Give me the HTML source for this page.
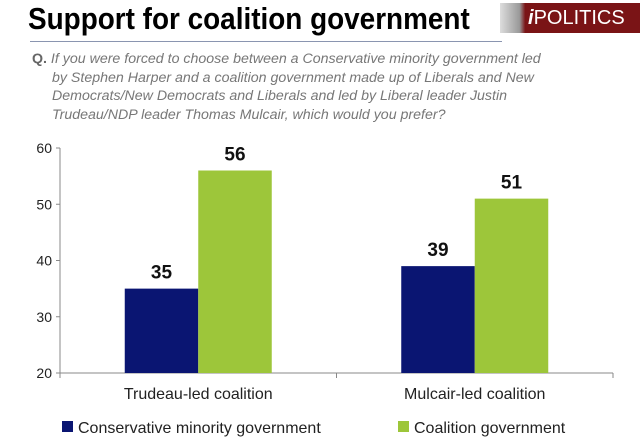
<!DOCTYPE html>
<html><head><meta charset="utf-8"><style>
body{margin:0;width:640px;height:439px;background:#fff;overflow:hidden;font-family:"Liberation Sans",sans-serif;position:relative}
.t{position:absolute;white-space:nowrap}
</style></head><body>
<div class="t" style="left:28px;top:1px;font-size:31px;font-weight:bold;color:#000;transform:scaleX(0.9);transform-origin:0 0">Support for coalition government</div>
<div style="position:absolute;left:500px;top:3px;width:140px;height:30px;background:linear-gradient(90deg,#ddd,#999 14%,#7a1416 18%,#7a1416)">
<span class="t" style="left:28px;top:4px;font-size:20px;color:#fff"><i style="font-weight:bold">i</i>POLITICS</span></div>
<div style="position:absolute;left:30px;top:41px;width:472px;height:1px;background:#8a95b0"></div>
<div style="position:absolute;left:32px;top:50px;font-size:14.2px;line-height:18.6px;color:#777;font-style:italic;width:610px">
<div><b style="font-style:normal;color:#666">Q.</b> If you were forced to choose between a Conservative minority government led</div>
<div style="padding-left:20px">by Stephen Harper and a coalition government made up of Liberals and New</div>
<div style="padding-left:20px">Democrats/New Democrats and Liberals and led by Liberal leader Justin</div>
<div style="padding-left:20px">Trudeau/NDP leader Thomas Mulcair, which would you prefer?</div></div>
<svg id="c" width="640" height="439" style="position:absolute;left:0;top:0"></svg>
<script>
const categories=["Trudeau-led coalition","Mulcair-led coalition"];
const conservative=[35,39];
const coalition=[56,51];
const yTicks=[20,30,40,50,60];
const seriesNames=["Conservative minority government","Coalition government"];
const colors=["#0a1572","#9dc63a"];
const svg=document.getElementById('c');const NS="http://www.w3.org/2000/svg";
const x0=60,x1=613,yMin=20,yMax=60,py0=373,py1=148;
const y=v=>py0-(v-yMin)/(yMax-yMin)*(py0-py1);
const bw=(x1-x0)/categories.length;
function mk(tag,attrs,name,txt){const e=document.createElementNS(NS,tag);for(const k in attrs)e.setAttribute(k,attrs[k]);


if(txt!==undefined)e.textContent=txt;svg.appendChild(e);return e;}
mk('line',{x1:x0,y1:py1,x2:x0,y2:py0,stroke:'#888'},'y-axis');
mk('line',{x1:x0,y1:py0,x2:x1,y2:py0,stroke:'#888'},'x-axis');
yTicks.forEach(t=>{mk('line',{x1:x0-4,y1:y(t),x2:x0,y2:y(t),stroke:'#888'},'y-tick');
mk('text',{x:x0-8,y:y(t)+5,'text-anchor':'end','font-size':14,fill:'#222'},'y-tick-label',String(t));});
for(let i=0;i<=categories.length;i++)mk('line',{x1:x0+i*bw,y1:py0,x2:x0+i*bw,y2:py0+5,stroke:'#888'},'x-tick');
const series=[conservative,coalition];const barW=73.5;
categories.forEach((c,i)=>{const cx=x0+bw*(i+0.5);
series.forEach((s,j)=>{const bx=cx-barW+j*barW;
mk('rect',{x:bx,y:y(s[i]),width:barW,height:py0-y(s[i]),fill:colors[j]},'bar-'+(j?'coalition':'conservative')+'-'+(i+1));
mk('text',{x:bx+barW/2,y:y(s[i])-10,'text-anchor':'middle','font-size':19,'font-weight':'bold',fill:'#111'},'value-label',String(s[i]));});
mk('text',{x:cx,y:399,'text-anchor':'middle','font-size':16,fill:'#222'},'category-label',c);});
[[62,78],[398,414]].forEach((p,j)=>{mk('rect',{x:p[0],y:421,width:11,height:11,fill:colors[j]},'legend-swatch');
mk('text',{x:p[1],y:433,'font-size':16,fill:'#222'},'legend-entry',seriesNames[j]);});
</script>
</body></html>
